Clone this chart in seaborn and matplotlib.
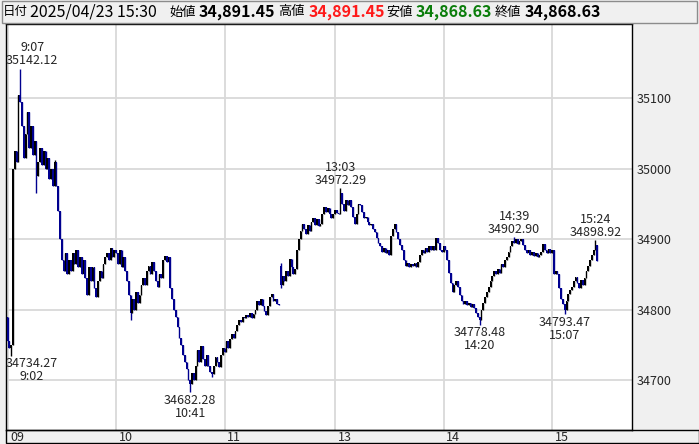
import pandas as pd
import seaborn as sns
import matplotlib.pyplot as plt
from matplotlib.patches import Rectangle
from matplotlib.transforms import ScaledTranslation

# DATA ---------------------------------------------------------------------------
# 1-minute closes, 09:00-11:30 then 12:30-15:24 and the 15:30 closing bar
closes = [
    34755, 34745, 34750, 35000, 35025, 35010, 35105, 35095, 35060, 35015,
    35050, 35080, 35030, 35060, 35020, 35040, 34990, 35010, 35030, 35005,
    35025, 35000, 35015, 34985, 35000, 34975, 35010, 34975, 34940, 34900,
    34870, 34855, 34880, 34850, 34870, 34855, 34880, 34865, 34885, 34860,
    34875, 34850, 34870, 34845, 34820, 34860, 34840, 34860, 34830, 34818,
    34840, 34855, 34845, 34865, 34875, 34880, 34870, 34888, 34875, 34885,
    34880, 34865, 34885, 34860, 34875, 34855, 34840, 34820, 34795, 34815,
    34800, 34825, 34810, 34820, 34835, 34845, 34835, 34855, 34862, 34850,
    34868, 34855, 34840, 34832, 34850, 34845, 34870, 34876, 34868, 34875,
    34830, 34815, 34800, 34790, 34775, 34760, 34750, 34735, 34725, 34715,
    34700, 34695, 34710, 34700, 34720, 34742, 34725, 34748, 34730, 34720,
    34735, 34720, 34712, 34708, 34720, 34733, 34725, 34718, 34735, 34745,
    34740, 34755, 34745, 34758, 34765, 34760, 34770, 34778, 34785, 34782,
    34790, 34788, 34792, 34790, 34795, 34788, 34794, 34800, 34812, 34806,
    34815, 34805, 34798, 34793, 34805, 34818, 34822, 34812, 34815, 34808,
    34806,
    34835, 34848, 34840, 34855, 34848, 34872, 34860, 34850, 34858,
    34885, 34900, 34912, 34922, 34915, 34908, 34920, 34912, 34925, 34930,
    34920, 34928, 34918, 34922, 34935, 34945, 34938, 34944, 34935, 34930,
    34935, 34942, 34937, 34935, 34965, 34950, 34940, 34955, 34948, 34955,
    34945, 34932, 34922, 34935, 34950, 34948, 34938, 34930, 34932, 34925,
    34920, 34922, 34915, 34910, 34902, 34895, 34890, 34882, 34888, 34880,
    34885, 34878, 34905, 34915, 34922, 34910, 34900, 34892, 34885, 34870,
    34862, 34866, 34860, 34865, 34862, 34866, 34860, 34868, 34878, 34885,
    34880, 34888, 34882, 34890, 34885, 34890, 34884, 34902, 34895, 34885,
    34882, 34890, 34885, 34870, 34852, 34838, 34825, 34835, 34840, 34832,
    34820, 34812, 34808, 34812, 34806, 34810, 34804, 34808, 34802, 34795,
    34790, 34785, 34800, 34810, 34818, 34825, 34832, 34840, 34848, 34855,
    34850, 34858, 34852, 34865, 34860, 34870, 34875, 34882, 34890, 34898,
    34895, 34900, 34893, 34897, 34900, 34892, 34885, 34880, 34884, 34878,
    34882, 34876, 34880, 34875, 34878, 34882, 34893, 34885, 34880, 34886,
    34880, 34885, 34850, 34855, 34850, 34830, 34815, 34808, 34800, 34812,
    34822, 34828, 34832, 34840, 34846, 34838, 34830, 34842, 34835, 34845,
    34855, 34862, 34870, 34878, 34884, 34896, 34868.63,
]
# opens that do not equal the previous close (session opens, closing auction)
open_gaps = {0: 34790.0, 151: 34862.0, 326: 34891.45}
# wick extremes
high_marks = {7: 35142.12, 26: 35012, 151: 34866, 184: 34972.29, 280: 34902.90,
              325: 34898.92, 326: 34891.45}
low_marks = {2: 34734.27, 16: 34966, 68: 34785, 101: 34682.28, 113: 34704,
             151: 34830, 261: 34778.48, 308: 34793.47, 326: 34868.63}
# labelled peaks / troughs
peak_labels = [(7, "high"), (2, "low"), (101, "low"), (184, "high"),
               (261, "low"), (280, "high"), (308, "low"), (325, "high")]
hour_labels = [9, 10, 11, 13, 14, 15]

times = (list(pd.date_range("2025-04-23 09:00", "2025-04-23 11:30", freq="min"))
         + list(pd.date_range("2025-04-23 12:30", "2025-04-23 15:24", freq="min"))
         + [pd.Timestamp("2025-04-23 15:30")])

df = pd.DataFrame({"time": times, "close": closes})
df["open"] = df["close"].shift(1)
for k, v in open_gaps.items():
    df.loc[k, "open"] = v
df["high"] = df[["open", "close"]].max(axis=1)
df["low"] = df[["open", "close"]].min(axis=1)
for k, v in high_marks.items():
    df.loc[k, "high"] = v
for k, v in low_marks.items():
    df.loc[k, "low"] = v

# STYLE --------------------------------------------------------------------------
sns.set_style("white")
plt.rcParams["font.family"] = ["Noto Sans CJK JP", "DejaVu Sans"]

W, H = 699, 444
fig = plt.figure(figsize=(W / 100, H / 100), dpi=100, facecolor="#f0f0f0")
ax = fig.add_axes([6 / W, 14 / H, 626 / W, 406 / H])
ax.set_facecolor("white")

# CANDLES ------------------------------------------------------------------------
up_col, down_col = "black", "#00008f"
colors = [up_col if c >= o else down_col for o, c in zip(df["open"], df["close"])]
ax.vlines(df.index, df["low"], df["high"], colors=colors, lw=1.0, zorder=3)
body = (df["close"] - df["open"]).abs().clip(lower=1.5)
ax.bar(df.index, body, bottom=df[["open", "close"]].min(axis=1), width=0.95,
       color=colors, linewidth=0, zorder=3)

ax.set_xlim(-0.85, 345.2)
ax.set_ylim(34629, 35205.5)

# AXES ---------------------------------------------------------------------------
ax.yaxis.tick_right()
ax.set_yticks([34700, 34800, 34900, 35000, 35100])
ax.tick_params(axis="y", length=0, pad=3, labelsize=9)
hour_pos = [df.index[(df["time"].dt.hour == h) & (df["time"].dt.minute == 0)][0]
            for h in hour_labels]
ax.set_xticks(hour_pos)
ax.set_xticklabels([f"{h:02d}" for h in hour_labels], ha="left")
ax.tick_params(axis="x", length=0, pad=1, labelsize=9)
shift = ScaledTranslation(2 / 72, 0, fig.dpi_scale_trans)
for lab in ax.get_xticklabels():
    lab.set_transform(lab.get_transform() + shift)
ax.grid(True, color="#d9d9d9", lw=1.3, zorder=0)
for s in ax.spines.values():
    s.set_color("black")
    s.set_linewidth(1)

# PEAK LABELS --------------------------------------------------------------------
x0 = ax.get_xlim()[0]
for i, kind in peak_labels:
    t = df.loc[i, "time"]
    tl = f"{t.hour}:{t.minute:02d}"
    val = df.loc[i, kind]
    xpos, ha = (x0, "left") if i < 10 else (i, "center")
    if kind == "high":
        ax.annotate(f"{tl}\n{val:.2f}", xy=(xpos, val), xytext=(0, 1),
                    textcoords="offset points", ha=ha, va="bottom",
                    multialignment="center", linespacing=1.0, fontsize=9)
    else:
        ax.annotate(f"{val:.2f}\n{tl}", xy=(xpos, val), xytext=(0, -1),
                    textcoords="offset points", ha=ha, va="top",
                    multialignment="center", linespacing=1.0, fontsize=9)

# FRAME PANELS -------------------------------------------------------------------
def px(x, y):
    return x / W, 1 - y / H

fig.patches.append(Rectangle(px(2, 23), 695 / W, 22 / H, transform=fig.transFigure,
                             facecolor="none", edgecolor="#8c8c8c", lw=1))
fig.patches.append(Rectangle(px(6, 443), 693 / W, 13 / H, transform=fig.transFigure,
                             facecolor="none", edgecolor="black", lw=1))

# HEADER -------------------------------------------------------------------------
last = df.iloc[-1]
pieces = [
    ("日付", 3, "normal", "black", 9),
    (last["time"].strftime("%Y/%m/%d %H:%M"), 30, "normal", "black", 11.5),
    ("始値", 169, "normal", "black", 9.5),
    (f"{last['open']:,.2f}", 199, "bold", "black", 11.5),
    ("高値", 278, "normal", "black", 9.5),
    (f"{last['high']:,.2f}", 309, "bold", "#ff1a1a", 11.5),
    ("安値", 386, "normal", "black", 9.5),
    (f"{last['low']:,.2f}", 416, "bold", "#0a7d0a", 11.5),
    ("終値", 495, "normal", "black", 9.5),
    (f"{last['close']:,.2f}", 525, "bold", "black", 11.5),
]
for txt, xp, wt, col, fs in pieces:
    fig.text(*px(xp, 12), txt, ha="left", va="center", fontsize=fs,
             fontweight=wt, color=col)

fig.savefig("out.png", dpi=100, facecolor=fig.get_facecolor())
